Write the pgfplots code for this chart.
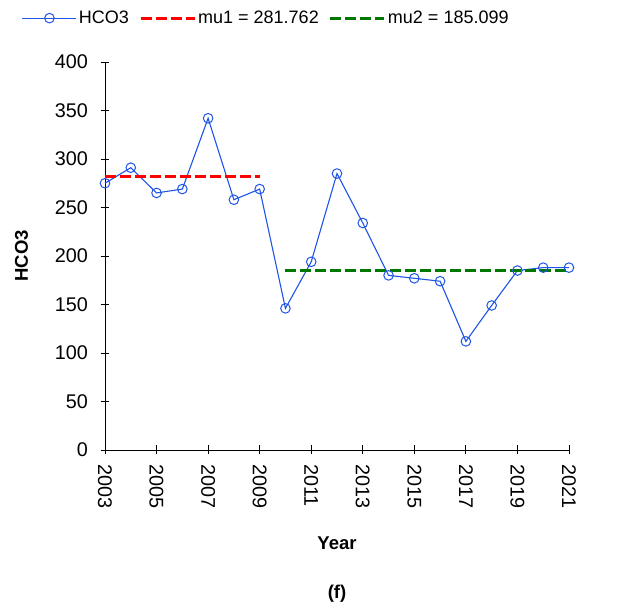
\documentclass[border=0pt]{standalone}
\usepackage{pgfplots}
\pgfplotsset{compat=1.18}
\usepackage{fontspec}
\setmainfont{Liberation Sans}
\usetikzlibrary{calc}
\definecolor{lineblue}{RGB}{30,85,230}
\definecolor{mured}{RGB}{255,0,0}
\definecolor{mugreen}{RGB}{0,120,0}

\begin{document}
\begin{tikzpicture}
\begin{axis}[
    name=ax,
    scale only axis,
    width=464pt, height=388pt,
    xmin=2003, xmax=2021,
    ymin=0, ymax=400,
    axis lines=left,
    xtick={2003,2005,...,2021},
    ytick={0,50,...,400},
    tick align=center,
    major tick length=9pt,
    tick style={black, line width=0.8pt},
    axis line style={-, black, line width=0.8pt},
    x tick label style={yshift=-6pt, rotate=-90, anchor=west, font=\fontsize{19.8}{22}\selectfont},
    y tick label style={xshift=-9pt, font=\fontsize{19.8}{22}\selectfont},
    xticklabel={\pgfmathprintnumber[1000 sep=]{\tick}},
    /pgf/number format/assume math mode=true,
    ylabel={\textbf{HCO3}},
    ylabel style={font=\fontsize{18.5}{20}\selectfont, at={(rel axis cs:-0.18,0.5)}, anchor=center},
    xlabel={\textbf{Year}},
    xlabel style={font=\fontsize{18.5}{20}\selectfont, at={(rel axis cs:0.5,-0.24)}, anchor=center},
    clip=false,
    legend columns=3,
    legend style={draw=none, fill=none, font=\fontsize{18}{20}\selectfont,
        at={(rel axis cs:-0.186,1.113)}, anchor=west,
        /tikz/every even column/.append style={column sep=8pt}},
    legend image code/.code={
        \draw[mark repeat=2,mark phase=2,#1] plot coordinates {(0pt,0pt) (27pt,0pt) (54pt,0pt)};
    },
]
\addplot[color=lineblue, line width=1.1pt, mark=o, mark size=4.8pt, mark options={line width=1pt}] coordinates {
    (2003,275) (2004,291) (2005,265) (2006,269) (2007,342) (2008,258) (2009,269)
    (2010,146) (2011,194) (2012,285) (2013,234) (2014,180) (2015,177) (2016,174)
    (2017,112) (2018,149) (2019,185) (2020,188) (2021,188)
};
\addlegendentry{HCO3}
\addplot[color=mured, line width=3.2pt, dash pattern=on 11pt off 4pt, no marks] coordinates {
    (2003,281.762) (2009,281.762)
};
\addlegendentry{mu1 = 281.762}
\addplot[color=mugreen, line width=3.2pt, dash pattern=on 11pt off 4pt, no marks] coordinates {
    (2010,185.099) (2021,185.099)
};
\addlegendentry{mu2 = 185.099}
\node[font=\bfseries\fontsize{18.5}{20}\selectfont] at (rel axis cs:0.5,-0.371) {(f)};
\end{axis}
\path ($(ax.south west)+(-105pt,-158pt)$) rectangle ($(ax.north east)+(66pt,62pt)$);
\end{tikzpicture}
\end{document}
